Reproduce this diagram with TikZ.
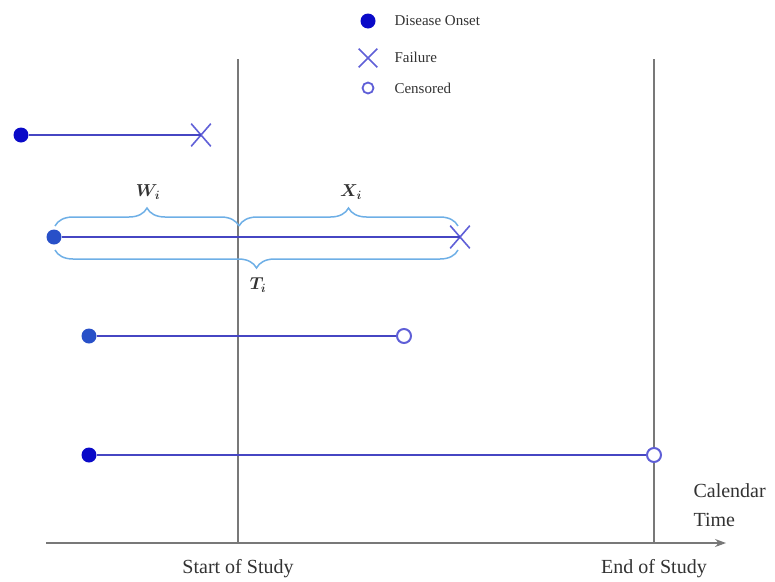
\documentclass[tikz,border=0pt]{standalone}
\usepackage{amsmath}
\usepackage{fontspec}
\setmainfont{Liberation Serif}
\usetikzlibrary{decorations.pathreplacing,shapes.misc,arrows.meta}
\definecolor{dotblue}{RGB}{10,10,200}
\definecolor{dotblueB}{RGB}{40,80,200}
\definecolor{linevio}{RGB}{70,70,195}
\definecolor{markvio}{RGB}{95,95,215}
\definecolor{bracecol}{RGB}{110,175,230}
\definecolor{axisgray}{RGB}{120,120,120}
\definecolor{txtgray}{RGB}{50,50,50}
\tikzset{
  onset/.style={circle,fill=dotblue,inner sep=0pt,minimum size=15pt},
  onsetB/.style={circle,fill=dotblueB,inner sep=0pt,minimum size=15pt},
  fail/.style={cross out,draw=markvio,line width=1.6pt,inner sep=0pt,minimum width=18pt,minimum height=21pt},
  cens/.style={circle,draw=markvio,fill=white,line width=2pt,inner sep=0pt,minimum size=14pt},
  life/.style={draw=linevio,line width=1.4pt},
  studyline/.style={draw=axisgray,line width=1.3pt},
  tbrace/.style={draw=bracecol,line width=1.5pt,decorate,decoration={brace,amplitude=18pt}},
  lbl/.style={text=txtgray,font=\fontsize{20}{29}\selectfont},
  leg/.style={text=txtgray,font=\fontsize{15}{17}\selectfont,anchor=west},
  mlbl/.style={text=txtgray,font=\fontsize{17}{19}\selectfont}
}
\begin{document}
\begin{tikzpicture}[x=1pt,y=-1pt]
\useasboundingbox (0,0) rectangle (775,581);
% study lines and axis
\coordinate (s0) at (238,59);
\coordinate (s1) at (238,543);
\coordinate (e0) at (654,59);
\coordinate (e1) at (654,543);
\coordinate (a0) at (46,543);
\coordinate (a1) at (726,543);
\draw[studyline] (s0) -- (s1);
\draw[studyline] (e0) -- (e1);
\draw[studyline,-{Stealth[length=11pt,width=8pt]}] (a0) -- (a1);
\node[lbl] (start) at (238,569) {Start of Study};
\node[lbl] (end) at (654,569) {End of Study};
\node[lbl,align=left,anchor=west] (cal) at (690,505) {Calendar\\Time};
% legend
\node[onset] (l1) at (368,21) {};
\node[fail,minimum width=17pt,minimum height=17pt] (l2) at (368,58) {};
\node[cens,minimum size=11pt,line width=1.8pt] (l3) at (368,88) {};
\node[leg] (t1) at (391,21) {Disease Onset};
\node[leg] (t2) at (391,57) {Failure};
\node[leg] (t3) at (391,88) {Censored};
% row 1
\node[onset] (d1) at (21,135) {};
\node[fail] (f1) at (201,135) {};
\draw[life] (d1) -- (f1.center);
% row 2
\node[onsetB] (d2) at (54,237) {};
\node[fail] (f2) at (460,237) {};
\draw[life] (d2) -- (f2.center);
\coordinate (b1a) at (55,226);
\coordinate (b1b) at (239,226);
\coordinate (b2b) at (458,226);
\coordinate (b3a) at (55,250);
\coordinate (b3b) at (458,250);
\draw[tbrace] (b1a) -- (b1b);
\draw[tbrace] (b1b) -- (b2b);
\draw[tbrace] (b3b) -- (b3a);
\node[mlbl] (W) at (148,192) {$\boldsymbol{W_i}$};
\node[mlbl] (X) at (351,192) {$\boldsymbol{X_i}$};
\node[mlbl] (T) at (258,285) {$\boldsymbol{T_i}$};
% row 3
\node[onsetB] (d3) at (89,336) {};
\node[cens] (c3) at (404,336) {};
\draw[life] (d3) -- (c3);
% row 4
\node[onset] (d4) at (89,455) {};
\node[cens] (c4) at (654,455) {};
\draw[life] (d4) -- (c4);
\end{tikzpicture}
\end{document}
